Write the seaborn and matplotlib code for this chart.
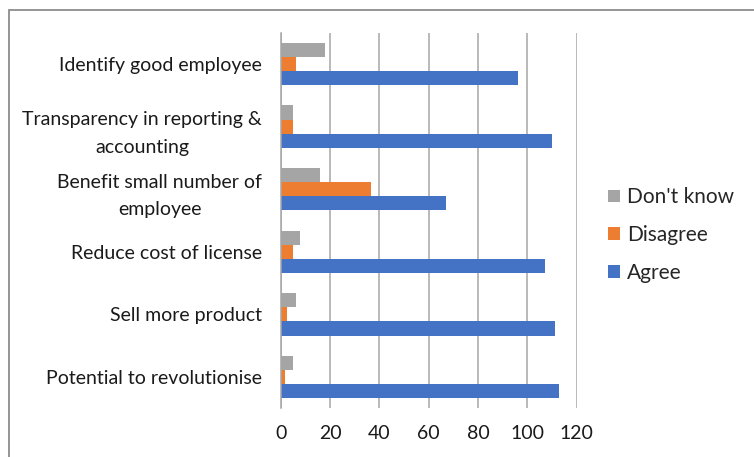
import seaborn as sns
import matplotlib.pyplot as plt
import pandas as pd
from matplotlib.patches import Rectangle

categories = ["Identify good employee",
              "Transparency in reporting &\naccounting",
              "Benefit small number of\nemployee",
              "Reduce cost of license",
              "Sell more product",
              "Potential to revolutionise"]
agree = [96, 110, 67, 107, 111, 113]
disagree = [6, 5, 36.5, 5, 2.5, 1.6]
dont_know = [18, 5, 16, 8, 6, 5]
series = ["Don't know", "Disagree", "Agree"]
colors = ["#A5A5A5", "#ED7D31", "#4472C4"]
xticks = [0, 20, 40, 60, 80, 100, 120]

rows = []
for s, vals in zip(series, [dont_know, disagree, agree]):
    for c, v in zip(categories, vals):
        rows.append({"Category": c, "Value": v, "Series": s})
df = pd.DataFrame(rows)

sns.set_theme(style="white")
plt.rcParams['font.family'] = ['Lato', 'DejaVu Sans']
fs = 14
grid_c = "#A6A6A6"

fig = plt.figure(figsize=(7.54, 4.57), dpi=100)
ax = fig.add_axes([0.3723, 0.1066, 0.3926, 0.8218])
sns.barplot(data=df, y="Category", x="Value", hue="Series", hue_order=series,
            order=categories, palette=colors, orient="h", width=0.68, gap=0,
            saturation=1, errorbar=None, ax=ax, linewidth=0)

ax.set_xlim(0, 120)
ax.set_xticks(xticks)
ax.set_ylim(5.5, -0.5)
ax.set_xlabel("")
ax.set_ylabel("")
ax.grid(axis="x", color=grid_c, linewidth=1.1)
ax.set_axisbelow(True)
for s in ["top", "right", "bottom"]:
    ax.spines[s].set_visible(False)
ax.spines["left"].set_color(grid_c)
ax.spines["left"].set_linewidth(1.1)
ax.set_yticks([i - 0.5 for i in range(7)], minor=True)
ax.tick_params(axis="y", which="major", length=0, pad=13.5, labelsize=fs, colors="#1a1a1a")
ax.tick_params(axis="y", which="minor", length=5, width=1.1, color=grid_c)
ax.tick_params(axis="x", which="major", length=4, width=1.1, color=grid_c, pad=8,
               labelsize=fs, labelcolor="#1a1a1a")
for t in ax.get_yticklabels():
    t.set_multialignment("center")
    t.set_linespacing(1.75)

handles, labels = ax.get_legend_handles_labels()
ax.legend(handles, labels, loc="center left", bbox_to_anchor=(0.807, 0.486),
          bbox_transform=fig.transFigure, frameon=False, fontsize=15,
          handlelength=0.55, handleheight=0.55, handletextpad=0.35,
          labelspacing=0.85, borderpad=0, borderaxespad=0)

fig.add_artist(Rectangle((9 / 754, -0.05), 1.1, 0.978 + 0.05, transform=fig.transFigure,
                         fill=False, edgecolor="#8C8C8C", linewidth=1.3, clip_on=False))

fig.savefig("out.png", dpi=100)
